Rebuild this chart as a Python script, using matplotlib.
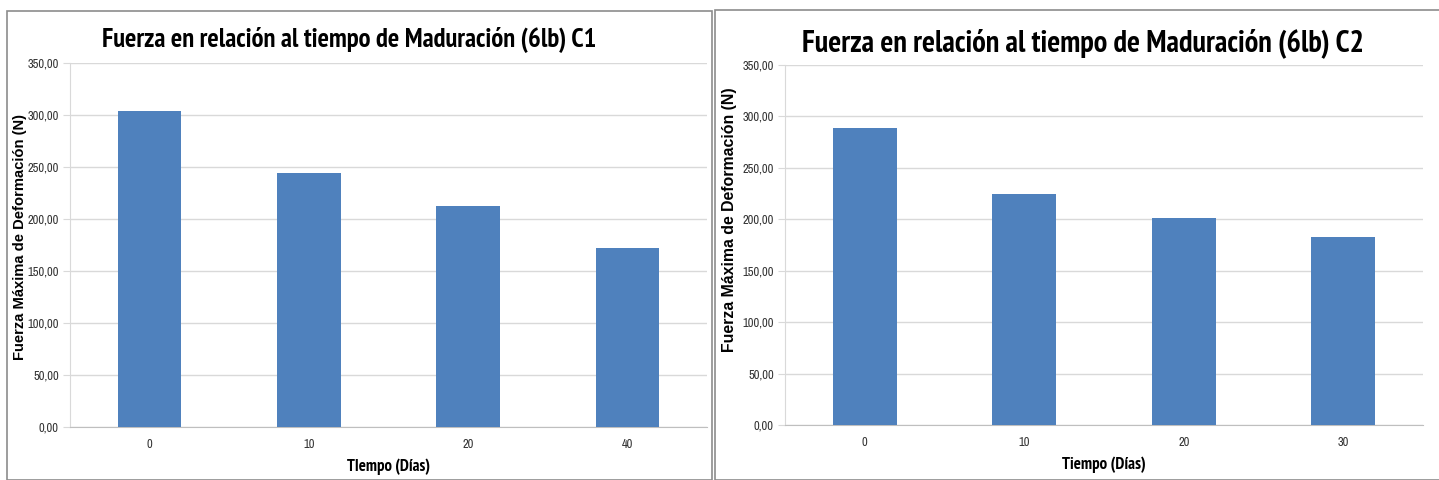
import matplotlib.pyplot as plt
from matplotlib.patches import Rectangle
from matplotlib import font_manager
import numpy as np

# data
dias_c1 = ['0', '10', '20', '40']
fuerza_c1 = [304, 244, 212.5, 172]
dias_c2 = ['0', '10', '20', '30']
fuerza_c2 = [289, 225, 201, 183]
yticks = [0, 50, 100, 150, 200, 250, 300, 350]

# narrow fonts for the Arial Narrow look; bold one only if a bold face exists
narrow = 'Liberation Sans'
narrow_bold = 'Liberation Sans'
cands = {}
for f in font_manager.fontManager.ttflist:
    if 'Narrow' in f.name or 'Condensed' in f.name:
        w = f.weight if isinstance(f.weight, int) else 700 if f.weight == 'bold' else 400
        cands.setdefault(f.name, set()).add(w)
for name in sorted(cands, key=lambda n: ('Narrow' not in n, n)):
    if narrow == 'Liberation Sans':
        narrow = name
    if max(cands[name]) >= 600:
        narrow_bold = name
        break

W, H = 1439, 480
fig = plt.figure(figsize=(W / 100, H / 100), dpi=100)
renderer = fig.canvas.get_renderer()

# panel borders
fig.patches.append(Rectangle((7 / W, 0), 705 / W, (H - 11) / H, transform=fig.transFigure,
                             fill=False, edgecolor='#8c8c8c', lw=1.2))
fig.patches.append(Rectangle((715 / W, 0), 730 / W, (H - 10) / H, transform=fig.transFigure,
                             fill=False, edgecolor='#8c8c8c', lw=1.2))


def fit(t, length_px, vertical=False):
    # scale text so it covers the same length as in the picture
    bb = t.get_window_extent(renderer)
    cur = bb.height if vertical else bb.width
    t.set_fontsize(t.get_fontsize() * length_px / cur)


def panel(px, top, bot, right, cats, vals, title, title_x, title_y, title_w, xlab,
          ylab_x, ylab_y, ylab_len):
    ax = fig.add_axes([px / W, (H - bot) / H, (right - px) / W, (bot - top) / H])
    x = np.arange(len(cats))
    ax.bar(x, vals, width=0.4, color='#4F81BD', zorder=3)
    ax.set_xlim(-0.5, len(cats) - 0.5)
    ax.set_ylim(0, 350)
    ax.set_yticks(yticks)
    ax.set_yticklabels(['%d,00' % v for v in yticks], fontfamily=narrow, fontsize=9, color='#333333')
    ax.set_xticks(x)
    ax.set_xticklabels(cats, fontfamily=narrow, fontsize=9, color='#333333')
    ax.grid(axis='y', color='#d9d9d9', lw=1, zorder=0)
    for s in ['top', 'right']:
        ax.spines[s].set_visible(False)
    ax.spines['left'].set_color('#d9d9d9')
    ax.spines['bottom'].set_color('#bfbfbf')
    ax.tick_params(axis='y', length=5, color='#d9d9d9', pad=3)
    ax.tick_params(axis='x', length=0, pad=9)
    xl = ax.set_xlabel(xlab, fontfamily=narrow_bold, fontweight='bold', fontsize=10.5, labelpad=6)
    fit(xl, 84)
    yl = ax.set_ylabel('Fuerza Máxima de Deformación (N)', fontfamily='Liberation Sans',
                       fontweight='bold', fontsize=10.5)
    fit(yl, ylab_len, vertical=True)
    # label coords put the right edge of the rotated label at ylab_x
    ax.yaxis.set_label_coords((ylab_x - px) / (right - px), (bot - ylab_y) / (bot - top))
    t = fig.text(title_x / W, (H - title_y) / H, title, fontfamily=narrow_bold,
                 fontweight='bold', fontsize=18, ha='center', va='center')
    fit(t, title_w)
    return ax


panel(70, 63, 427, 707, dias_c1, fuerza_c1,
      'Fuerza en relación al tiempo de Maduración (6lb) C1', 349, 40, 498, 'TIempo (Días)',
      27, 237, 247)
panel(785, 65, 425, 1423, dias_c2, fuerza_c2,
      'Fuerza en relación al tiempo de Maduración (6lb) C2', 1083, 43, 566, 'Tiempo (Días)',
      737, 220, 266)

fig.savefig('out.png', dpi=100)
